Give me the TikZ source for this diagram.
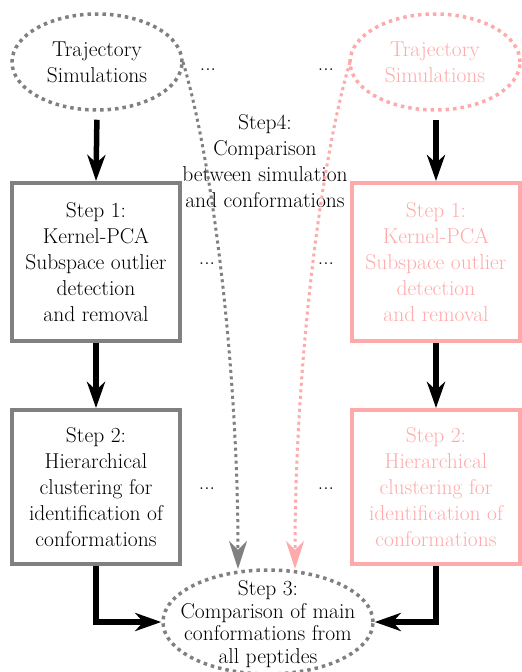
\documentclass[tikz,border=0pt]{standalone}
\usetikzlibrary{shapes.geometric,arrows.meta}
\definecolor{pinkc}{RGB}{255,170,170}
\definecolor{grayc}{RGB}{128,128,128}
\begin{document}
\begin{tikzpicture}[x=1pt,y=-1pt,
  txt/.style={font=\rmfamily\fontsize{21.5}{26}\selectfont, align=center, inner sep=0pt},
  stepbox/.style={txt, draw=grayc, line width=4pt, minimum width=168pt},
  pinkbox/.style={draw=pinkc, text=pinkc},
  ell/.style={ellipse, draw=grayc, line width=3.5pt, dash pattern=on 3.5pt off 4pt, inner sep=0pt, minimum width=170pt, minimum height=96pt},
  arr/.style={line width=5.5pt, -{Stealth[length=26pt,width=18pt,inset=8pt]}},
  dcurve/.style={line width=3pt, dash pattern=on 3pt off 3.5pt, -{Stealth[length=28pt,width=18pt,inset=9pt]}},
  dotsn/.style={txt, anchor=base}
]
\useasboundingbox (0,0) rectangle (522,672);

% top ellipses
\node[ell] (tl) at (97,62) {};
\node[txt] (tlt) at (tl.center) {Trajectory\\Simulations};
\node[ell, draw=pinkc] (tr) at (435,62) {};
\node[txt, text=pinkc] (trt) at (tr.center) {Trajectory\\Simulations};

% step 1 boxes
\node[stepbox, minimum height=158pt] (b1l) at (96,262) {Step 1:\\Kernel-PCA\\Subspace outlier\\detection\\and removal};
\node[stepbox, pinkbox, minimum height=158pt] (b1r) at (436,262) {Step 1:\\Kernel-PCA\\Subspace outlier\\detection\\and removal};

% step 2 boxes
\node[stepbox, minimum height=154pt] (b2l) at (96,487) {Step 2:\\Hierarchical\\clustering for\\identification of\\conformations};
\node[stepbox, pinkbox, minimum height=154pt] (b2r) at (436,487) {Step 2:\\Hierarchical\\clustering for\\identification of\\conformations};

% step 3 ellipse
\node[ell, minimum width=210pt, minimum height=104pt] (s3) at (268,622) {};
\node[txt, font=\rmfamily\fontsize{21.5}{22.5}\selectfont] (s3t) at (268,624) {Step 3:\\Comparison of main\\conformations from\\all peptides};

% step 4 label
\node[txt] (s4) at (265,161) {Step4:\\Comparison\\between simulation\\and conformations};

% dots
\node[dotsn] (d1) at (208,70) {...};
\node[dotsn] (d2) at (326,70) {...};
\node[dotsn] (d3) at (207,264) {...};
\node[dotsn] (d4) at (326,264) {...};
\node[dotsn] (d5) at (207,489) {...};
\node[dotsn] (d6) at (326,489) {...};

% black arrows
\draw[arr, shorten <=8pt] (tl.south) -- (b1l.north);
\draw[arr, shorten <=8pt] (tr.south -| b1r.north) -- (b1r.north);
\draw[arr] (b1l.south) -- (b2l.north);
\draw[arr] (b1r.south) -- (b2r.north);
\draw[arr] (b2l.south) |- (s3.west);
\draw[arr] (b2r.south) |- (s3.east);

% dotted curves
\coordinate (gs) at (183,62);
\coordinate (ge) at (238,569);
\coordinate (ps) at (350,62);
\coordinate (pe) at (295,569);
\draw[dcurve, grayc] (gs) .. controls (215,170) and (238,380) .. (ge);
\draw[dcurve, pinkc] (ps) .. controls (318,170) and (295,380) .. (pe);
\end{tikzpicture}
\end{document}
